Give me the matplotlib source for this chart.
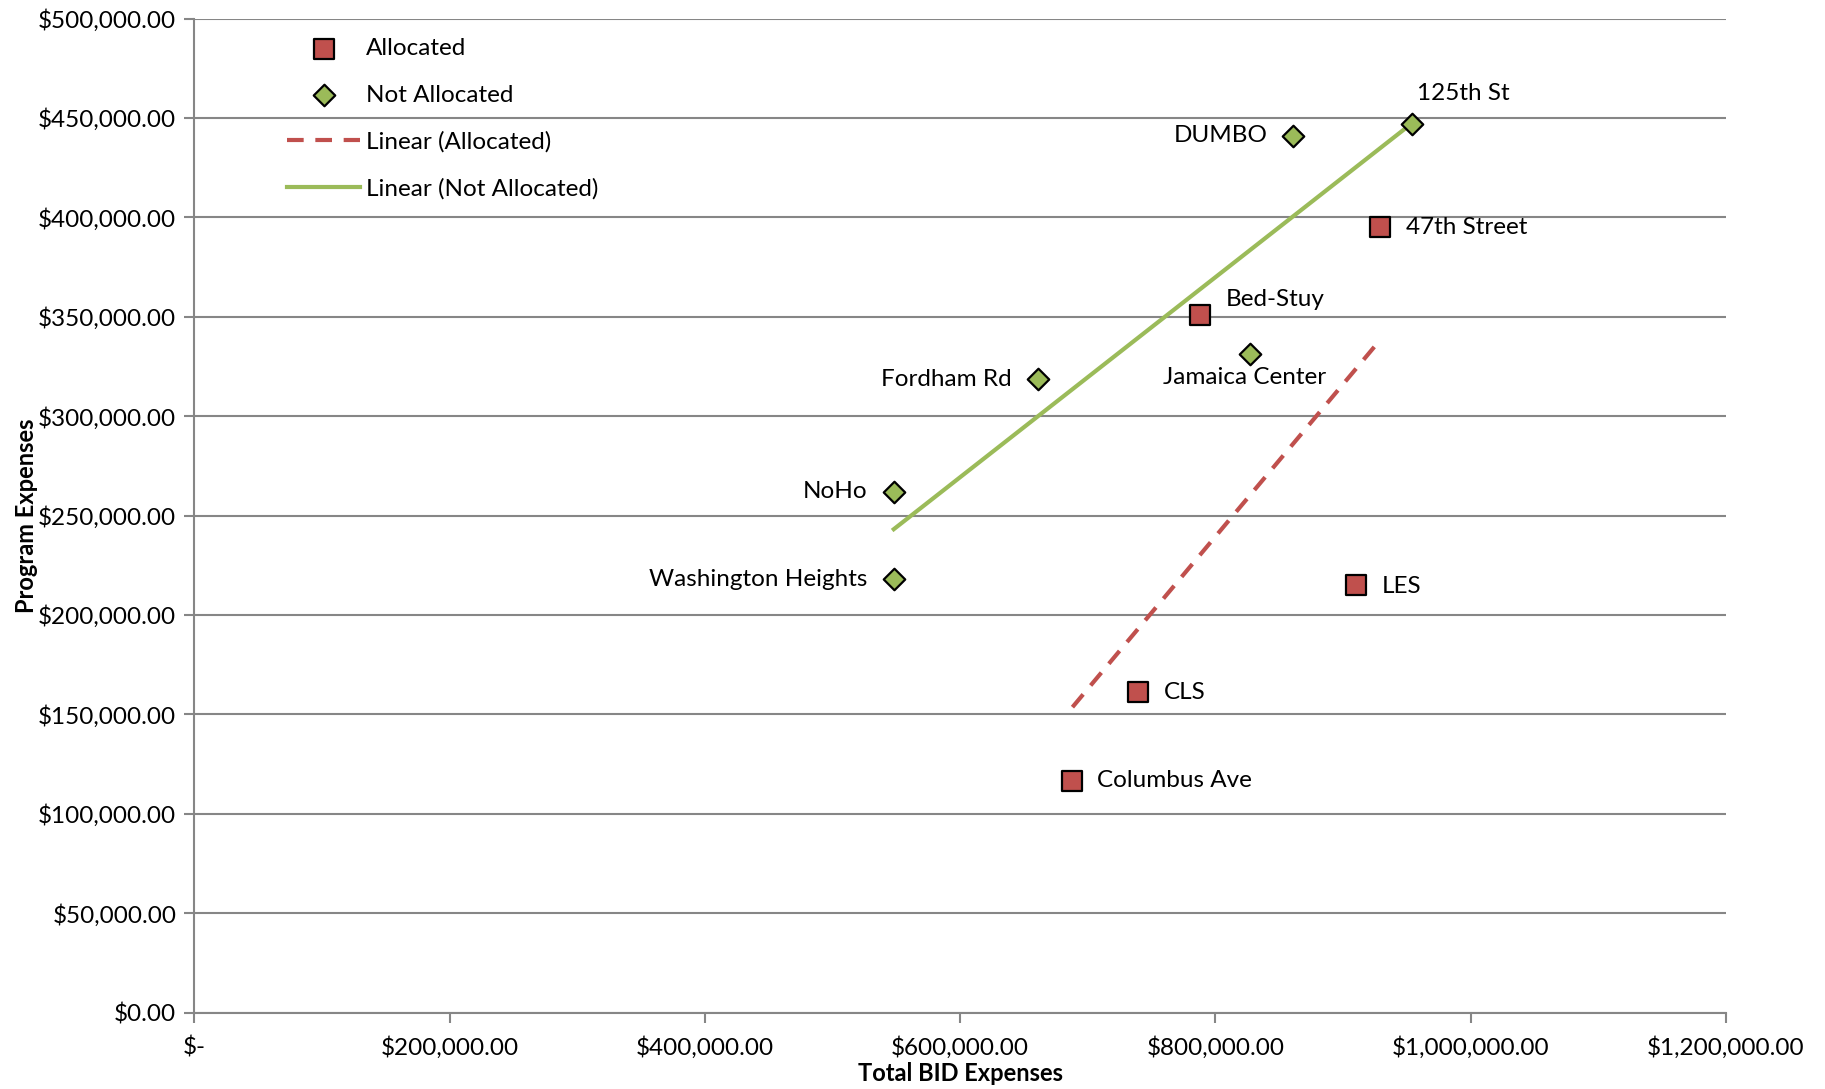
import numpy as np
import matplotlib
matplotlib.use('Agg')
import matplotlib.pyplot as plt
from matplotlib.ticker import FuncFormatter, MultipleLocator

plt.rcParams['font.family'] = ['Lato', 'DejaVu Sans']

# BIDs with allocated program expenses
alloc_names = ['47th Street', 'Bed-Stuy', 'LES', 'CLS', 'Columbus Ave']
alloc_total = [929000, 788000, 910000, 739000, 688000]
alloc_program = [395000, 351000, 215000, 161000, 116500]

# BIDs without allocation
notalloc_names = ['125th St', 'DUMBO', 'Jamaica Center', 'Fordham Rd', 'NoHo',
                  'Washington Heights']
notalloc_total = [954000, 861000, 827000, 661000, 548000, 548000]
notalloc_program = [447000, 441000, 331000, 318500, 262000, 218000]

# label offsets (pixels) and alignment for each point
alloc_pos = [(26, 0, 'left'), (26, 15, 'left'), (26, -1, 'left'),
             (26, 0, 'left'), (25, 0, 'left')]
notalloc_pos = [(5, 30, 'left'), (-26, 0, 'right'), (-5, -23, 'center'),
                (-26, 0, 'right'), (-26, 0, 'right'), (-26, 0, 'right')]

red = '#C0504D'
green = '#9BBB59'
grid = '#868686'
fs = 17.5

fig = plt.figure(figsize=(18.25, 10.89), dpi=100)
ax = fig.add_axes([0.1065, 0.0702, 0.8392, 0.9128])

ax.scatter(alloc_total, alloc_program, marker='s', s=200, color=red,
           edgecolor='black', linewidth=1.6, zorder=4, label='Allocated')
ax.scatter(notalloc_total, notalloc_program, marker='D', s=120, color=green,
           edgecolor='black', linewidth=1.6, zorder=4, label='Not Allocated')

# linear trendlines
xa = np.array(alloc_total, dtype=float)
ya = np.array(alloc_program, dtype=float)
m, b = np.polyfit(xa, ya, 1)
xs = np.array([xa.min(), xa.max()])
ax.plot(xs, m * xs + b, color=red, lw=3, dashes=(4, 2.8), zorder=3,
        label='Linear (Allocated)')

xn = np.array(notalloc_total, dtype=float)
yn = np.array(notalloc_program, dtype=float)
m, b = np.polyfit(xn, yn, 1)
xs = np.array([xn.min(), xn.max()])
ax.plot(xs, m * xs + b, color=green, lw=3, zorder=3,
        label='Linear (Not Allocated)')

for names, xv, yv, pos in [(alloc_names, alloc_total, alloc_program, alloc_pos),
                           (notalloc_names, notalloc_total, notalloc_program, notalloc_pos)]:
    for n, x, y, (dx, dy, ha) in zip(names, xv, yv, pos):
        ax.annotate(n, (x, y), xytext=(dx, dy), textcoords='offset pixels',
                    ha=ha, va='center', fontsize=fs, color='black')

ax.set_xlim(0, 1200000)
ax.set_ylim(0, 500000)
ax.xaxis.set_major_locator(MultipleLocator(200000))
ax.yaxis.set_major_locator(MultipleLocator(50000))
ax.xaxis.set_major_formatter(FuncFormatter(
    lambda v, p: '$-' if v == 0 else '${:,.2f}'.format(v)))
ax.yaxis.set_major_formatter(FuncFormatter(lambda v, p: '${:,.2f}'.format(v)))

ax.grid(axis='y', color=grid, lw=1.5)
ax.set_axisbelow(True)
for s in ['top', 'right']:
    ax.spines[s].set_visible(False)
for s in ['left', 'bottom']:
    ax.spines[s].set_color(grid)
    ax.spines[s].set_linewidth(1.5)
ax.tick_params(axis='both', colors=grid, length=7, width=1.5, labelsize=fs,
               labelcolor='black')
ax.tick_params(axis='x', pad=10)
ax.tick_params(axis='y', pad=6)

ax.set_xlabel('Total BID Expenses', fontsize=17, fontweight='bold', labelpad=2)
ax.set_ylabel('Program Expenses', fontsize=17, fontweight='bold', labelpad=0)

ax.legend(loc='upper left', bbox_to_anchor=(0.048, 1.0), frameon=False,
          fontsize=fs, handlelength=3.0, handletextpad=0.25, labelspacing=1.05,
          borderpad=0.3, scatterpoints=1)

fig.savefig('out.png', dpi=100)
